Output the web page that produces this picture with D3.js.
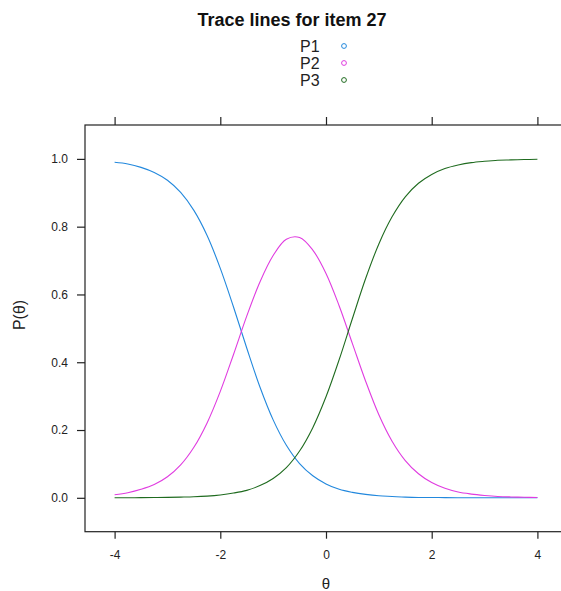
<!DOCTYPE html>
<html>
<head>
<meta charset="utf-8">
<script src="https://cdn.jsdelivr.net/npm/d3@7"></script>
<style>
  html, body { margin: 0; padding: 0; background: #fff; }
  svg { display: block; }
  text { font-family: "Liberation Sans", Arial, sans-serif; }
</style>
</head>
<body>
<svg id="chart" width="561" height="591"></svg>
<script>
// Ability grid and category probabilities for item 27
const theta = [-4, -3.75, -3.5, -3.25, -3, -2.75, -2.5, -2.25, -2, -1.75, -1.5, -1.25, -1,
  -0.75, -0.5, -0.25, 0, 0.25, 0.5, 0.75, 1, 1.25, 1.5, 1.75, 2, 2.25, 2.5, 2.75, 3,
  3.25, 3.5, 3.75, 4];
const p1 = [0.990, 0.985, 0.975, 0.960, 0.937, 0.901, 0.848, 0.774, 0.677, 0.563, 0.442,
  0.327, 0.230, 0.155, 0.101, 0.065, 0.041, 0.025, 0.016, 0.010, 0.006, 0.004, 0.002,
  0.001, 0.001, 0.0005, 0.0003, 0.0002, 0.0001, 0.0001, 0.0001, 0.0, 0.0];
const p2 = [0.009, 0.015, 0.025, 0.039, 0.062, 0.097, 0.149, 0.221, 0.314, 0.423, 0.536,
  0.637, 0.715, 0.763, 0.768, 0.731, 0.662, 0.566, 0.455, 0.344, 0.245, 0.167, 0.110,
  0.071, 0.045, 0.028, 0.017, 0.011, 0.007, 0.004, 0.0025, 0.0016, 0.001];
const p3 = [0.0002, 0.0003, 0.0005, 0.0008, 0.0012, 0.002, 0.003, 0.005, 0.0085, 0.014,
  0.022, 0.036, 0.057, 0.089, 0.138, 0.207, 0.298, 0.408, 0.529, 0.647, 0.749, 0.829,
  0.888, 0.928, 0.954, 0.9715, 0.982, 0.989, 0.993, 0.996, 0.997, 0.998, 0.999];

const seriesNames = ["P1", "P2", "P3"];
const seriesColors = ["#2288dd", "#e03ce0", "#1f6b1f"];
const xTicks = [-4, -2, 0, 2, 4];
const yTicks = [0, 0.2, 0.4, 0.6, 0.8, 1.0];
const titleText = "Trace lines for item 27";

const svg = d3.select("#chart");
const panel = { left: 85, right: 567, top: 125, bottom: 531.7 };

const x = d3.scaleLinear().domain([-4.56, 4.56]).range([panel.left, panel.right]);
const y = d3.scaleLinear().domain([-0.1, 1.1]).range([panel.bottom, panel.top]);

// panel frame
svg.append("rect")
  .attr("x", panel.left).attr("y", panel.top)
  .attr("width", panel.right - panel.left).attr("height", panel.bottom - panel.top)
  .attr("fill", "none").attr("stroke", "#222").attr("stroke-width", 1.2);

// axes
const axisStyle = g => {
  g.select(".domain").remove();
  g.selectAll(".tick line").attr("stroke", "#222").attr("stroke-width", 1.2);
  g.selectAll(".tick text").attr("fill", "#222")
    .style("font-size", "12px")
    .style("font-family", "'Liberation Sans', Arial, sans-serif");
};

svg.append("g")
  .attr("transform", `translate(0,${panel.bottom})`)
  .call(d3.axisBottom(x).tickValues(xTicks).tickFormat(d => String(d)).tickSize(7).tickPadding(12))
  .call(axisStyle);

svg.append("g")
  .attr("transform", `translate(0,${panel.top})`)
  .call(d3.axisTop(x).tickValues(xTicks).tickFormat("").tickSize(8))
  .call(axisStyle);

svg.append("g")
  .attr("transform", `translate(${panel.left},0)`)
  .call(d3.axisLeft(y).tickValues(yTicks).tickFormat(d3.format(".1f")).tickSize(8).tickPadding(9))
  .call(axisStyle);

// curves
const series = [p1, p2, p3];
const line = d3.line()
  .x((d, i) => x(theta[i]))
  .y(d => y(d))
  .curve(d3.curveCatmullRom.alpha(0.5));

series.forEach((vals, k) => {
  svg.append("path")
    .datum(vals)
    .attr("d", line)
    .attr("fill", "none")
    .attr("stroke", seriesColors[k])
    .attr("stroke-width", 1.1);
});

// title
svg.append("text")
  .attr("x", 292).attr("y", 26)
  .attr("text-anchor", "middle")
  .style("font-size", "18px").style("font-weight", "bold")
  .attr("fill", "#111")
  .text(titleText);

// legend
const legend = svg.append("g");
seriesNames.forEach((name, k) => {
  const cy = 46 + k * 17;
  legend.append("text")
    .attr("x", 300).attr("y", cy + 6)
    .style("font-size", "16px")
    .attr("fill", "#222")
    .text(name);
  legend.append("circle")
    .attr("cx", 344).attr("cy", cy)
    .attr("r", 2.4)
    .attr("fill", "none")
    .attr("stroke", seriesColors[k])
    .attr("stroke-width", 1);
});

// axis titles
svg.append("text")
  .attr("x", 326).attr("y", 589)
  .attr("text-anchor", "middle")
  .style("font-size", "15px")
  .attr("fill", "#222")
  .text("θ");

svg.append("text")
  .attr("transform", "translate(25,315) rotate(-90)")
  .attr("text-anchor", "middle")
  .style("font-size", "16px")
  .attr("fill", "#222")
  .text("P(θ)");
</script>
</body>
</html>
